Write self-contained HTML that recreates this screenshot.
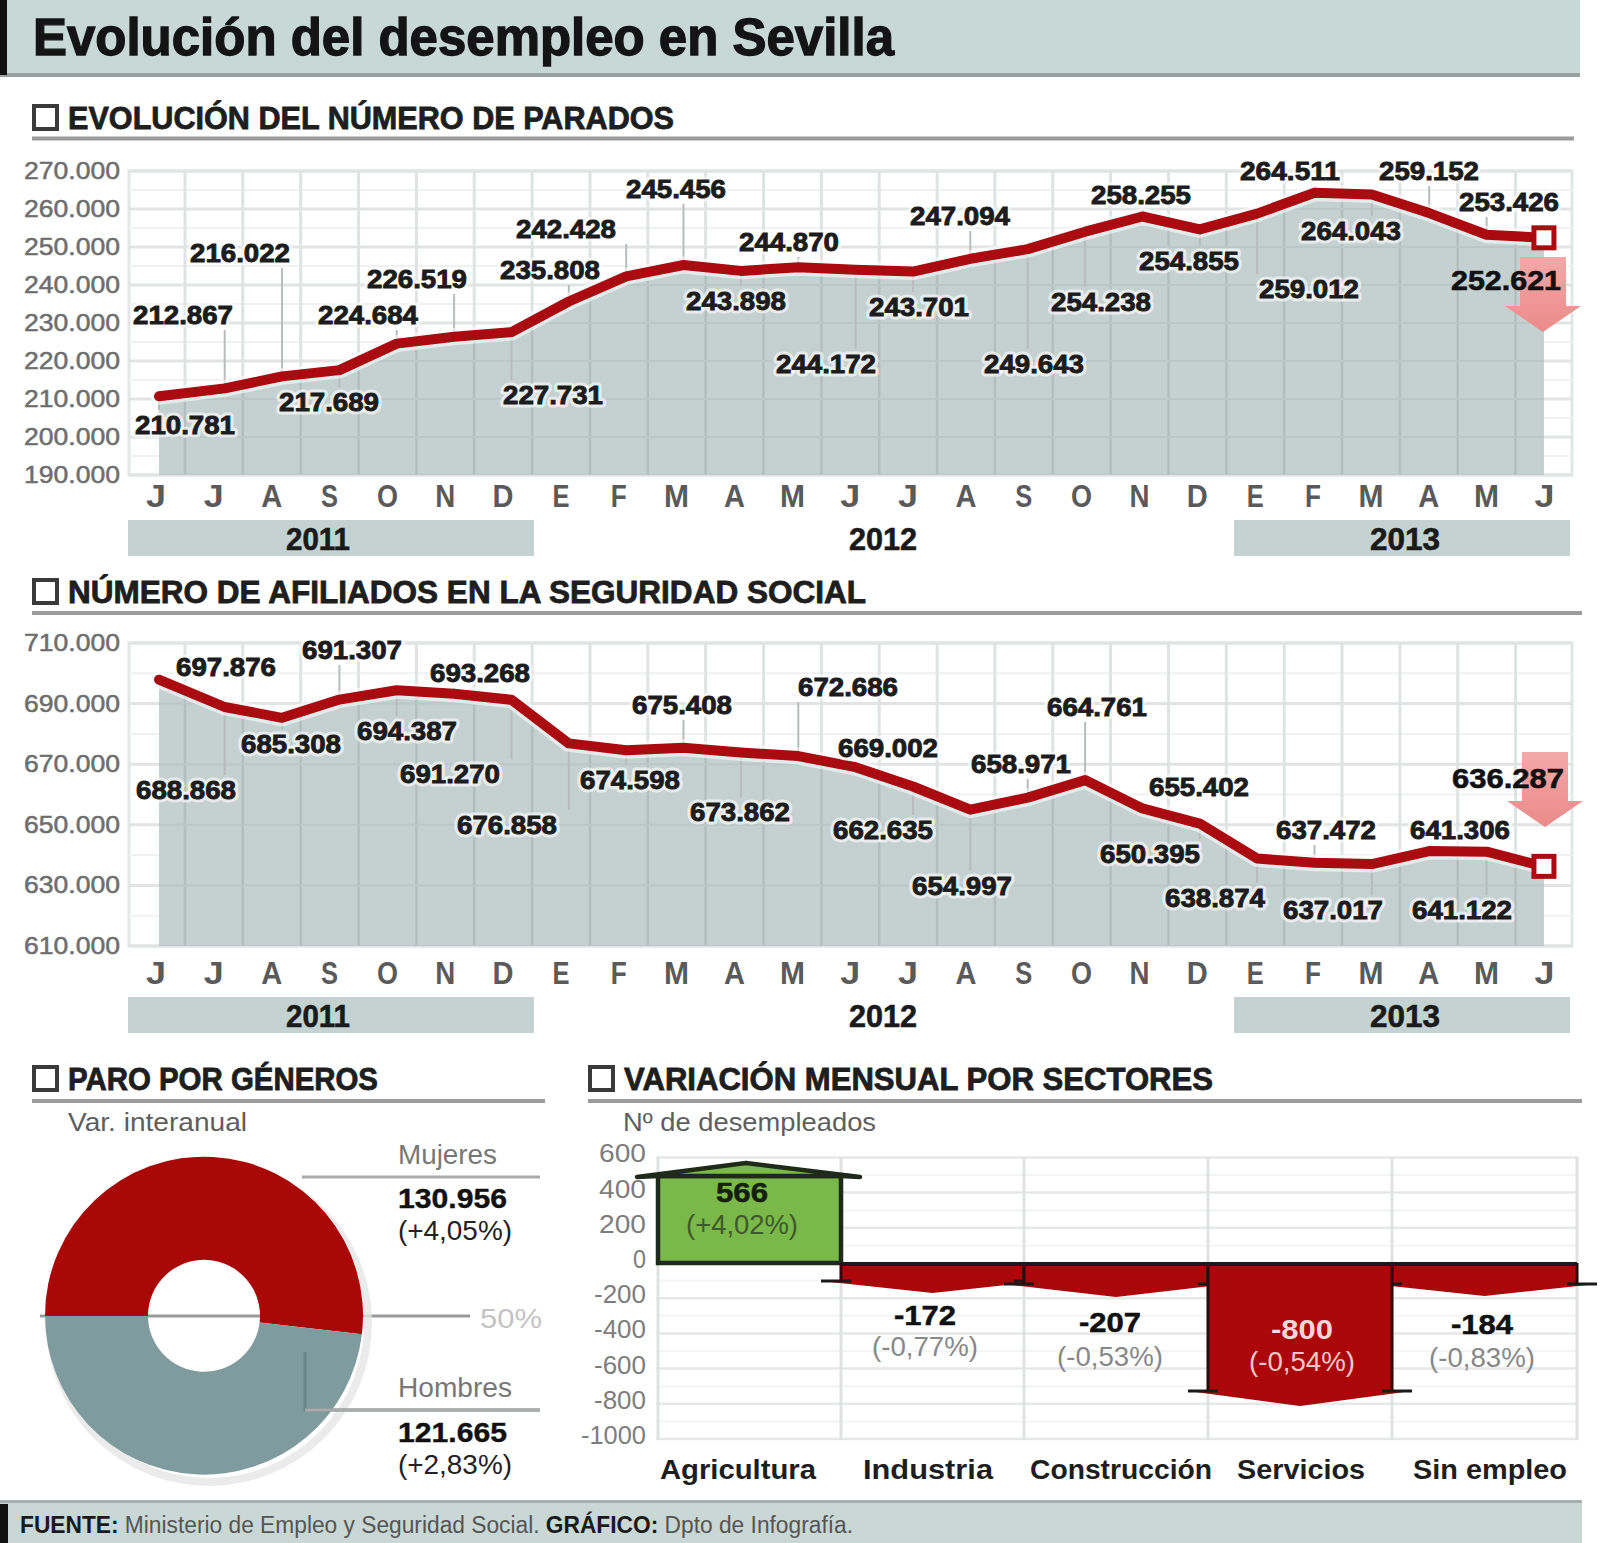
<!DOCTYPE html>
<html><head><meta charset="utf-8"><title>Evolución del desempleo en Sevilla</title>
<style>html,body{margin:0;padding:0;background:#fff;}body{width:1600px;height:1543px;overflow:hidden;font-family:"Liberation Sans", sans-serif;}svg{display:block;}</style>
</head><body>
<svg width="1600" height="1543" viewBox="0 0 1600 1543" font-family='"Liberation Sans", sans-serif'><defs><linearGradient id="ag" x1="0" y1="0" x2="0" y2="1"><stop offset="0" stop-color="#f3a8a8"/><stop offset="1" stop-color="#ec8a8a"/></linearGradient></defs>
<rect x="0" y="0" width="1580" height="75" fill="#c7d8d6"/>
<rect x="0" y="73" width="1580" height="4" fill="#98a1a0"/>
<rect x="0" y="0" width="7" height="75" fill="#111"/>
<text x="33.0" y="55.0" font-size="51" fill="#141414" font-weight="bold" text-anchor="start" textLength="861" lengthAdjust="spacingAndGlyphs" stroke="#141414" stroke-width="1.3">Evolución del desempleo en Sevilla</text>
<rect x="34" y="106" width="23" height="23" fill="none" stroke="#3a3a3a" stroke-width="4"/>
<text x="68.0" y="129.0" font-size="31" fill="#1e1e1e" font-weight="bold" text-anchor="start" textLength="606" lengthAdjust="spacingAndGlyphs" stroke="#1e1e1e" stroke-width="0.8">EVOLUCIÓN DEL NÚMERO DE PARADOS</text>
<rect x="32" y="136.5" width="1542" height="4" fill="#9c9c9c"/>
<rect x="34" y="580" width="23" height="23" fill="none" stroke="#3a3a3a" stroke-width="4"/>
<text x="68.0" y="603.0" font-size="31" fill="#1e1e1e" font-weight="bold" text-anchor="start" textLength="798" lengthAdjust="spacingAndGlyphs" stroke="#1e1e1e" stroke-width="0.8">NÚMERO DE AFILIADOS EN LA SEGURIDAD SOCIAL</text>
<rect x="32" y="611" width="1550" height="4" fill="#9c9c9c"/>
<rect x="34" y="1067" width="23" height="23" fill="none" stroke="#3a3a3a" stroke-width="4"/>
<text x="68.0" y="1090.0" font-size="31" fill="#1e1e1e" font-weight="bold" text-anchor="start" textLength="310" lengthAdjust="spacingAndGlyphs" stroke="#1e1e1e" stroke-width="0.8">PARO POR GÉNEROS</text>
<rect x="32" y="1099" width="513" height="4" fill="#9c9c9c"/>
<rect x="590" y="1067" width="23" height="23" fill="none" stroke="#3a3a3a" stroke-width="4"/>
<text x="624.0" y="1090.0" font-size="31" fill="#1e1e1e" font-weight="bold" text-anchor="start" textLength="589" lengthAdjust="spacingAndGlyphs" stroke="#1e1e1e" stroke-width="0.8">VARIACIÓN MENSUAL POR SECTORES</text>
<rect x="588" y="1099" width="994" height="4" fill="#9c9c9c"/>
<rect x="129" y="171" width="1443" height="304" fill="#ffffff" stroke="#e3e6e6" stroke-width="3"/>
<line x1="129" y1="171.0" x2="1572" y2="171.0" stroke="#e2e4e4" stroke-width="3"/>
<line x1="129" y1="190.0" x2="1572" y2="190.0" stroke="#f0f1f1" stroke-width="2"/>
<text x="120.0" y="179.0" font-size="23" fill="#6e6e6e" font-weight="normal" text-anchor="end" textLength="96" lengthAdjust="spacingAndGlyphs" stroke="#6e6e6e" stroke-width="0.5">270.000</text>
<line x1="129" y1="209.0" x2="1572" y2="209.0" stroke="#e2e4e4" stroke-width="3"/>
<line x1="129" y1="228.0" x2="1572" y2="228.0" stroke="#f0f1f1" stroke-width="2"/>
<text x="120.0" y="217.0" font-size="23" fill="#6e6e6e" font-weight="normal" text-anchor="end" textLength="96" lengthAdjust="spacingAndGlyphs" stroke="#6e6e6e" stroke-width="0.5">260.000</text>
<line x1="129" y1="247.0" x2="1572" y2="247.0" stroke="#e2e4e4" stroke-width="3"/>
<line x1="129" y1="266.0" x2="1572" y2="266.0" stroke="#f0f1f1" stroke-width="2"/>
<text x="120.0" y="255.0" font-size="23" fill="#6e6e6e" font-weight="normal" text-anchor="end" textLength="96" lengthAdjust="spacingAndGlyphs" stroke="#6e6e6e" stroke-width="0.5">250.000</text>
<line x1="129" y1="285.0" x2="1572" y2="285.0" stroke="#e2e4e4" stroke-width="3"/>
<line x1="129" y1="304.0" x2="1572" y2="304.0" stroke="#f0f1f1" stroke-width="2"/>
<text x="120.0" y="293.0" font-size="23" fill="#6e6e6e" font-weight="normal" text-anchor="end" textLength="96" lengthAdjust="spacingAndGlyphs" stroke="#6e6e6e" stroke-width="0.5">240.000</text>
<line x1="129" y1="323.0" x2="1572" y2="323.0" stroke="#e2e4e4" stroke-width="3"/>
<line x1="129" y1="342.0" x2="1572" y2="342.0" stroke="#f0f1f1" stroke-width="2"/>
<text x="120.0" y="331.0" font-size="23" fill="#6e6e6e" font-weight="normal" text-anchor="end" textLength="96" lengthAdjust="spacingAndGlyphs" stroke="#6e6e6e" stroke-width="0.5">230.000</text>
<line x1="129" y1="361.0" x2="1572" y2="361.0" stroke="#e2e4e4" stroke-width="3"/>
<line x1="129" y1="380.0" x2="1572" y2="380.0" stroke="#f0f1f1" stroke-width="2"/>
<text x="120.0" y="369.0" font-size="23" fill="#6e6e6e" font-weight="normal" text-anchor="end" textLength="96" lengthAdjust="spacingAndGlyphs" stroke="#6e6e6e" stroke-width="0.5">220.000</text>
<line x1="129" y1="399.0" x2="1572" y2="399.0" stroke="#e2e4e4" stroke-width="3"/>
<line x1="129" y1="418.0" x2="1572" y2="418.0" stroke="#f0f1f1" stroke-width="2"/>
<text x="120.0" y="407.0" font-size="23" fill="#6e6e6e" font-weight="normal" text-anchor="end" textLength="96" lengthAdjust="spacingAndGlyphs" stroke="#6e6e6e" stroke-width="0.5">210.000</text>
<line x1="129" y1="437.0" x2="1572" y2="437.0" stroke="#e2e4e4" stroke-width="3"/>
<line x1="129" y1="456.0" x2="1572" y2="456.0" stroke="#f0f1f1" stroke-width="2"/>
<text x="120.0" y="445.0" font-size="23" fill="#6e6e6e" font-weight="normal" text-anchor="end" textLength="96" lengthAdjust="spacingAndGlyphs" stroke="#6e6e6e" stroke-width="0.5">200.000</text>
<line x1="129" y1="475.0" x2="1572" y2="475.0" stroke="#e2e4e4" stroke-width="3"/>
<text x="120.0" y="483.0" font-size="23" fill="#6e6e6e" font-weight="normal" text-anchor="end" textLength="96" lengthAdjust="spacingAndGlyphs" stroke="#6e6e6e" stroke-width="0.5">190.000</text>
<line x1="185.0" y1="171" x2="185.0" y2="475" stroke="#e0e3e3" stroke-width="3"/>
<line x1="242.8" y1="171" x2="242.8" y2="475" stroke="#e0e3e3" stroke-width="3"/>
<line x1="300.7" y1="171" x2="300.7" y2="475" stroke="#e0e3e3" stroke-width="3"/>
<line x1="358.6" y1="171" x2="358.6" y2="475" stroke="#e0e3e3" stroke-width="3"/>
<line x1="416.4" y1="171" x2="416.4" y2="475" stroke="#e0e3e3" stroke-width="3"/>
<line x1="474.2" y1="171" x2="474.2" y2="475" stroke="#e0e3e3" stroke-width="3"/>
<line x1="532.1" y1="171" x2="532.1" y2="475" stroke="#e0e3e3" stroke-width="3"/>
<line x1="590.0" y1="171" x2="590.0" y2="475" stroke="#e0e3e3" stroke-width="3"/>
<line x1="647.8" y1="171" x2="647.8" y2="475" stroke="#e0e3e3" stroke-width="3"/>
<line x1="705.6" y1="171" x2="705.6" y2="475" stroke="#e0e3e3" stroke-width="3"/>
<line x1="763.5" y1="171" x2="763.5" y2="475" stroke="#e0e3e3" stroke-width="3"/>
<line x1="821.4" y1="171" x2="821.4" y2="475" stroke="#e0e3e3" stroke-width="3"/>
<line x1="879.2" y1="171" x2="879.2" y2="475" stroke="#e0e3e3" stroke-width="3"/>
<line x1="937.1" y1="171" x2="937.1" y2="475" stroke="#e0e3e3" stroke-width="3"/>
<line x1="994.9" y1="171" x2="994.9" y2="475" stroke="#e0e3e3" stroke-width="3"/>
<line x1="1052.8" y1="171" x2="1052.8" y2="475" stroke="#e0e3e3" stroke-width="3"/>
<line x1="1110.6" y1="171" x2="1110.6" y2="475" stroke="#e0e3e3" stroke-width="3"/>
<line x1="1168.5" y1="171" x2="1168.5" y2="475" stroke="#e0e3e3" stroke-width="3"/>
<line x1="1226.3" y1="171" x2="1226.3" y2="475" stroke="#e0e3e3" stroke-width="3"/>
<line x1="1284.2" y1="171" x2="1284.2" y2="475" stroke="#e0e3e3" stroke-width="3"/>
<line x1="1342.0" y1="171" x2="1342.0" y2="475" stroke="#e0e3e3" stroke-width="3"/>
<line x1="1399.9" y1="171" x2="1399.9" y2="475" stroke="#e0e3e3" stroke-width="3"/>
<line x1="1457.7" y1="171" x2="1457.7" y2="475" stroke="#e0e3e3" stroke-width="3"/>
<line x1="1515.5" y1="171" x2="1515.5" y2="475" stroke="#e0e3e3" stroke-width="3"/>
<path d="M159.0,475 L159.0,396.3 L224.7,388.4 L282.0,376.4 L339.4,370.1 L396.7,343.6 L454.1,336.7 L511.5,332.1 L568.8,301.5 L626.2,276.4 L683.5,265.0 L740.9,270.9 L798.3,267.2 L855.6,269.8 L913.0,271.6 L970.3,258.8 L1027.7,249.1 L1085.1,231.7 L1142.4,216.5 L1199.8,229.4 L1257.1,213.6 L1314.5,192.8 L1371.9,194.6 L1429.2,213.1 L1486.6,234.8 L1543.9,237.8 L1543.9,475 Z" fill="#c5d0d0"/>
<line x1="185.0" y1="171" x2="185.0" y2="475" stroke="#b3bfbf" stroke-width="2.5" clip-path="url(#clip171)"/>
<line x1="242.8" y1="171" x2="242.8" y2="475" stroke="#b3bfbf" stroke-width="2.5" clip-path="url(#clip171)"/>
<line x1="300.7" y1="171" x2="300.7" y2="475" stroke="#b3bfbf" stroke-width="2.5" clip-path="url(#clip171)"/>
<line x1="358.6" y1="171" x2="358.6" y2="475" stroke="#b3bfbf" stroke-width="2.5" clip-path="url(#clip171)"/>
<line x1="416.4" y1="171" x2="416.4" y2="475" stroke="#b3bfbf" stroke-width="2.5" clip-path="url(#clip171)"/>
<line x1="474.2" y1="171" x2="474.2" y2="475" stroke="#b3bfbf" stroke-width="2.5" clip-path="url(#clip171)"/>
<line x1="532.1" y1="171" x2="532.1" y2="475" stroke="#b3bfbf" stroke-width="2.5" clip-path="url(#clip171)"/>
<line x1="590.0" y1="171" x2="590.0" y2="475" stroke="#b3bfbf" stroke-width="2.5" clip-path="url(#clip171)"/>
<line x1="647.8" y1="171" x2="647.8" y2="475" stroke="#b3bfbf" stroke-width="2.5" clip-path="url(#clip171)"/>
<line x1="705.6" y1="171" x2="705.6" y2="475" stroke="#b3bfbf" stroke-width="2.5" clip-path="url(#clip171)"/>
<line x1="763.5" y1="171" x2="763.5" y2="475" stroke="#b3bfbf" stroke-width="2.5" clip-path="url(#clip171)"/>
<line x1="821.4" y1="171" x2="821.4" y2="475" stroke="#b3bfbf" stroke-width="2.5" clip-path="url(#clip171)"/>
<line x1="879.2" y1="171" x2="879.2" y2="475" stroke="#b3bfbf" stroke-width="2.5" clip-path="url(#clip171)"/>
<line x1="937.1" y1="171" x2="937.1" y2="475" stroke="#b3bfbf" stroke-width="2.5" clip-path="url(#clip171)"/>
<line x1="994.9" y1="171" x2="994.9" y2="475" stroke="#b3bfbf" stroke-width="2.5" clip-path="url(#clip171)"/>
<line x1="1052.8" y1="171" x2="1052.8" y2="475" stroke="#b3bfbf" stroke-width="2.5" clip-path="url(#clip171)"/>
<line x1="1110.6" y1="171" x2="1110.6" y2="475" stroke="#b3bfbf" stroke-width="2.5" clip-path="url(#clip171)"/>
<line x1="1168.5" y1="171" x2="1168.5" y2="475" stroke="#b3bfbf" stroke-width="2.5" clip-path="url(#clip171)"/>
<line x1="1226.3" y1="171" x2="1226.3" y2="475" stroke="#b3bfbf" stroke-width="2.5" clip-path="url(#clip171)"/>
<line x1="1284.2" y1="171" x2="1284.2" y2="475" stroke="#b3bfbf" stroke-width="2.5" clip-path="url(#clip171)"/>
<line x1="1342.0" y1="171" x2="1342.0" y2="475" stroke="#b3bfbf" stroke-width="2.5" clip-path="url(#clip171)"/>
<line x1="1399.9" y1="171" x2="1399.9" y2="475" stroke="#b3bfbf" stroke-width="2.5" clip-path="url(#clip171)"/>
<line x1="1457.7" y1="171" x2="1457.7" y2="475" stroke="#b3bfbf" stroke-width="2.5" clip-path="url(#clip171)"/>
<line x1="1515.5" y1="171" x2="1515.5" y2="475" stroke="#b3bfbf" stroke-width="2.5" clip-path="url(#clip171)"/>
<clipPath id="clip171"><path d="M159.0,475 L159.0,396.3 L224.7,388.4 L282.0,376.4 L339.4,370.1 L396.7,343.6 L454.1,336.7 L511.5,332.1 L568.8,301.5 L626.2,276.4 L683.5,265.0 L740.9,270.9 L798.3,267.2 L855.6,269.8 L913.0,271.6 L970.3,258.8 L1027.7,249.1 L1085.1,231.7 L1142.4,216.5 L1199.8,229.4 L1257.1,213.6 L1314.5,192.8 L1371.9,194.6 L1429.2,213.1 L1486.6,234.8 L1543.9,237.8 L1543.9,475 Z"/></clipPath>
<line x1="129" y1="171.0" x2="1572" y2="171.0" stroke="#bcc7c7" stroke-width="2" clip-path="url(#clip171)"/>
<line x1="129" y1="209.0" x2="1572" y2="209.0" stroke="#bcc7c7" stroke-width="2" clip-path="url(#clip171)"/>
<line x1="129" y1="247.0" x2="1572" y2="247.0" stroke="#bcc7c7" stroke-width="2" clip-path="url(#clip171)"/>
<line x1="129" y1="285.0" x2="1572" y2="285.0" stroke="#bcc7c7" stroke-width="2" clip-path="url(#clip171)"/>
<line x1="129" y1="323.0" x2="1572" y2="323.0" stroke="#bcc7c7" stroke-width="2" clip-path="url(#clip171)"/>
<line x1="129" y1="361.0" x2="1572" y2="361.0" stroke="#bcc7c7" stroke-width="2" clip-path="url(#clip171)"/>
<line x1="129" y1="399.0" x2="1572" y2="399.0" stroke="#bcc7c7" stroke-width="2" clip-path="url(#clip171)"/>
<line x1="129" y1="437.0" x2="1572" y2="437.0" stroke="#bcc7c7" stroke-width="2" clip-path="url(#clip171)"/>
<line x1="129" y1="475.0" x2="1572" y2="475.0" stroke="#bcc7c7" stroke-width="2" clip-path="url(#clip171)"/>
<line x1="224.7" y1="330.0" x2="224.7" y2="388.4" stroke="#b8bcbc" stroke-width="2"/>
<line x1="282.0" y1="268.0" x2="282.0" y2="376.4" stroke="#b8bcbc" stroke-width="2"/>
<line x1="454.1" y1="294.0" x2="454.1" y2="336.7" stroke="#b8bcbc" stroke-width="2"/>
<line x1="396.7" y1="330.0" x2="396.7" y2="343.6" stroke="#b8bcbc" stroke-width="2"/>
<line x1="626.2" y1="244.0" x2="626.2" y2="276.4" stroke="#b8bcbc" stroke-width="2"/>
<line x1="568.8" y1="285.0" x2="568.8" y2="301.5" stroke="#b8bcbc" stroke-width="2"/>
<line x1="683.5" y1="204.0" x2="683.5" y2="265.0" stroke="#b8bcbc" stroke-width="2"/>
<line x1="798.3" y1="257.0" x2="798.3" y2="267.2" stroke="#b8bcbc" stroke-width="2"/>
<line x1="740.9" y1="270.9" x2="740.9" y2="286.0" stroke="#b8bcbc" stroke-width="2"/>
<line x1="855.6" y1="269.8" x2="855.6" y2="349.0" stroke="#b8bcbc" stroke-width="2"/>
<line x1="970.3" y1="231.0" x2="970.3" y2="258.8" stroke="#b8bcbc" stroke-width="2"/>
<line x1="913.0" y1="271.6" x2="913.0" y2="292.0" stroke="#b8bcbc" stroke-width="2"/>
<line x1="1027.7" y1="249.1" x2="1027.7" y2="349.0" stroke="#b8bcbc" stroke-width="2"/>
<line x1="1085.1" y1="231.7" x2="1085.1" y2="287.0" stroke="#b8bcbc" stroke-width="2"/>
<line x1="1142.4" y1="210.0" x2="1142.4" y2="216.5" stroke="#b8bcbc" stroke-width="2"/>
<line x1="1199.8" y1="229.4" x2="1199.8" y2="246.0" stroke="#b8bcbc" stroke-width="2"/>
<line x1="1314.5" y1="186.0" x2="1314.5" y2="192.8" stroke="#b8bcbc" stroke-width="2"/>
<line x1="1371.9" y1="194.6" x2="1371.9" y2="216.0" stroke="#b8bcbc" stroke-width="2"/>
<line x1="1257.1" y1="213.6" x2="1257.1" y2="274.0" stroke="#b8bcbc" stroke-width="2"/>
<line x1="1429.2" y1="186.0" x2="1429.2" y2="213.1" stroke="#b8bcbc" stroke-width="2"/>
<line x1="1486.6" y1="217.0" x2="1486.6" y2="234.8" stroke="#b8bcbc" stroke-width="2"/>
<line x1="159.0" y1="396.3" x2="159.0" y2="410.0" stroke="#b8bcbc" stroke-width="2"/>
<line x1="339.4" y1="370.1" x2="339.4" y2="387.0" stroke="#b8bcbc" stroke-width="2"/>
<line x1="511.5" y1="332.1" x2="511.5" y2="380.0" stroke="#b8bcbc" stroke-width="2"/>
<polyline points="159.0,396.3 224.7,388.4 282.0,376.4 339.4,370.1 396.7,343.6 454.1,336.7 511.5,332.1 568.8,301.5 626.2,276.4 683.5,265.0 740.9,270.9 798.3,267.2 855.6,269.8 913.0,271.6 970.3,258.8 1027.7,249.1 1085.1,231.7 1142.4,216.5 1199.8,229.4 1257.1,213.6 1314.5,192.8 1371.9,194.6 1429.2,213.1 1486.6,234.8 1543.9,237.8" fill="none" stroke="#ffffff" stroke-opacity="0.55" stroke-width="17" stroke-linejoin="round" stroke-linecap="round"/>
<polyline points="159.0,396.3 224.7,388.4 282.0,376.4 339.4,370.1 396.7,343.6 454.1,336.7 511.5,332.1 568.8,301.5 626.2,276.4 683.5,265.0 740.9,270.9 798.3,267.2 855.6,269.8 913.0,271.6 970.3,258.8 1027.7,249.1 1085.1,231.7 1142.4,216.5 1199.8,229.4 1257.1,213.6 1314.5,192.8 1371.9,194.6 1429.2,213.1 1486.6,234.8 1543.9,237.8" fill="none" stroke="#a90b10" stroke-width="10" stroke-linejoin="round" stroke-linecap="round"/>
<text x="183.0" y="324.0" font-size="26" fill="#ffffff" font-weight="bold" text-anchor="middle" textLength="100" lengthAdjust="spacingAndGlyphs" stroke="#ffffff" stroke-opacity="0.6" stroke-width="7" stroke-linejoin="round">212.867</text>
<text x="240.0" y="262.0" font-size="26" fill="#ffffff" font-weight="bold" text-anchor="middle" textLength="100" lengthAdjust="spacingAndGlyphs" stroke="#ffffff" stroke-opacity="0.6" stroke-width="7" stroke-linejoin="round">216.022</text>
<text x="417.0" y="288.0" font-size="26" fill="#ffffff" font-weight="bold" text-anchor="middle" textLength="100" lengthAdjust="spacingAndGlyphs" stroke="#ffffff" stroke-opacity="0.6" stroke-width="7" stroke-linejoin="round">226.519</text>
<text x="368.0" y="324.0" font-size="26" fill="#ffffff" font-weight="bold" text-anchor="middle" textLength="100" lengthAdjust="spacingAndGlyphs" stroke="#ffffff" stroke-opacity="0.6" stroke-width="7" stroke-linejoin="round">224.684</text>
<text x="566.0" y="238.0" font-size="26" fill="#ffffff" font-weight="bold" text-anchor="middle" textLength="100" lengthAdjust="spacingAndGlyphs" stroke="#ffffff" stroke-opacity="0.6" stroke-width="7" stroke-linejoin="round">242.428</text>
<text x="550.0" y="279.0" font-size="26" fill="#ffffff" font-weight="bold" text-anchor="middle" textLength="100" lengthAdjust="spacingAndGlyphs" stroke="#ffffff" stroke-opacity="0.6" stroke-width="7" stroke-linejoin="round">235.808</text>
<text x="676.0" y="198.0" font-size="26" fill="#ffffff" font-weight="bold" text-anchor="middle" textLength="100" lengthAdjust="spacingAndGlyphs" stroke="#ffffff" stroke-opacity="0.6" stroke-width="7" stroke-linejoin="round">245.456</text>
<text x="789.0" y="251.0" font-size="26" fill="#ffffff" font-weight="bold" text-anchor="middle" textLength="100" lengthAdjust="spacingAndGlyphs" stroke="#ffffff" stroke-opacity="0.6" stroke-width="7" stroke-linejoin="round">244.870</text>
<text x="736.0" y="310.0" font-size="26" fill="#ffffff" font-weight="bold" text-anchor="middle" textLength="100" lengthAdjust="spacingAndGlyphs" stroke="#ffffff" stroke-opacity="0.6" stroke-width="7" stroke-linejoin="round">243.898</text>
<text x="826.0" y="373.0" font-size="26" fill="#ffffff" font-weight="bold" text-anchor="middle" textLength="100" lengthAdjust="spacingAndGlyphs" stroke="#ffffff" stroke-opacity="0.6" stroke-width="7" stroke-linejoin="round">244.172</text>
<text x="960.0" y="225.0" font-size="26" fill="#ffffff" font-weight="bold" text-anchor="middle" textLength="100" lengthAdjust="spacingAndGlyphs" stroke="#ffffff" stroke-opacity="0.6" stroke-width="7" stroke-linejoin="round">247.094</text>
<text x="919.0" y="316.0" font-size="26" fill="#ffffff" font-weight="bold" text-anchor="middle" textLength="100" lengthAdjust="spacingAndGlyphs" stroke="#ffffff" stroke-opacity="0.6" stroke-width="7" stroke-linejoin="round">243.701</text>
<text x="1034.0" y="373.0" font-size="26" fill="#ffffff" font-weight="bold" text-anchor="middle" textLength="100" lengthAdjust="spacingAndGlyphs" stroke="#ffffff" stroke-opacity="0.6" stroke-width="7" stroke-linejoin="round">249.643</text>
<text x="1101.0" y="311.0" font-size="26" fill="#ffffff" font-weight="bold" text-anchor="middle" textLength="100" lengthAdjust="spacingAndGlyphs" stroke="#ffffff" stroke-opacity="0.6" stroke-width="7" stroke-linejoin="round">254.238</text>
<text x="1141.0" y="204.0" font-size="26" fill="#ffffff" font-weight="bold" text-anchor="middle" textLength="100" lengthAdjust="spacingAndGlyphs" stroke="#ffffff" stroke-opacity="0.6" stroke-width="7" stroke-linejoin="round">258.255</text>
<text x="1189.0" y="270.0" font-size="26" fill="#ffffff" font-weight="bold" text-anchor="middle" textLength="100" lengthAdjust="spacingAndGlyphs" stroke="#ffffff" stroke-opacity="0.6" stroke-width="7" stroke-linejoin="round">254.855</text>
<text x="1290.0" y="180.0" font-size="26" fill="#ffffff" font-weight="bold" text-anchor="middle" textLength="100" lengthAdjust="spacingAndGlyphs" stroke="#ffffff" stroke-opacity="0.6" stroke-width="7" stroke-linejoin="round">264.511</text>
<text x="1351.0" y="240.0" font-size="26" fill="#ffffff" font-weight="bold" text-anchor="middle" textLength="100" lengthAdjust="spacingAndGlyphs" stroke="#ffffff" stroke-opacity="0.6" stroke-width="7" stroke-linejoin="round">264.043</text>
<text x="1309.0" y="298.0" font-size="26" fill="#ffffff" font-weight="bold" text-anchor="middle" textLength="100" lengthAdjust="spacingAndGlyphs" stroke="#ffffff" stroke-opacity="0.6" stroke-width="7" stroke-linejoin="round">259.012</text>
<text x="1429.0" y="180.0" font-size="26" fill="#ffffff" font-weight="bold" text-anchor="middle" textLength="100" lengthAdjust="spacingAndGlyphs" stroke="#ffffff" stroke-opacity="0.6" stroke-width="7" stroke-linejoin="round">259.152</text>
<text x="1509.0" y="211.0" font-size="26" fill="#ffffff" font-weight="bold" text-anchor="middle" textLength="100" lengthAdjust="spacingAndGlyphs" stroke="#ffffff" stroke-opacity="0.6" stroke-width="7" stroke-linejoin="round">253.426</text>
<text x="185.0" y="434.0" font-size="26" fill="#ffffff" font-weight="bold" text-anchor="middle" textLength="100" lengthAdjust="spacingAndGlyphs" stroke="#ffffff" stroke-opacity="0.6" stroke-width="7" stroke-linejoin="round">210.781</text>
<text x="329.0" y="411.0" font-size="26" fill="#ffffff" font-weight="bold" text-anchor="middle" textLength="100" lengthAdjust="spacingAndGlyphs" stroke="#ffffff" stroke-opacity="0.6" stroke-width="7" stroke-linejoin="round">217.689</text>
<text x="553.0" y="404.0" font-size="26" fill="#ffffff" font-weight="bold" text-anchor="middle" textLength="100" lengthAdjust="spacingAndGlyphs" stroke="#ffffff" stroke-opacity="0.6" stroke-width="7" stroke-linejoin="round">227.731</text>
<text x="183.0" y="324.0" font-size="26" fill="#1c1c1c" font-weight="bold" text-anchor="middle" textLength="100" lengthAdjust="spacingAndGlyphs" stroke="#1c1c1c" stroke-width="0.9">212.867</text>
<text x="240.0" y="262.0" font-size="26" fill="#1c1c1c" font-weight="bold" text-anchor="middle" textLength="100" lengthAdjust="spacingAndGlyphs" stroke="#1c1c1c" stroke-width="0.9">216.022</text>
<text x="417.0" y="288.0" font-size="26" fill="#1c1c1c" font-weight="bold" text-anchor="middle" textLength="100" lengthAdjust="spacingAndGlyphs" stroke="#1c1c1c" stroke-width="0.9">226.519</text>
<text x="368.0" y="324.0" font-size="26" fill="#1c1c1c" font-weight="bold" text-anchor="middle" textLength="100" lengthAdjust="spacingAndGlyphs" stroke="#1c1c1c" stroke-width="0.9">224.684</text>
<text x="566.0" y="238.0" font-size="26" fill="#1c1c1c" font-weight="bold" text-anchor="middle" textLength="100" lengthAdjust="spacingAndGlyphs" stroke="#1c1c1c" stroke-width="0.9">242.428</text>
<text x="550.0" y="279.0" font-size="26" fill="#1c1c1c" font-weight="bold" text-anchor="middle" textLength="100" lengthAdjust="spacingAndGlyphs" stroke="#1c1c1c" stroke-width="0.9">235.808</text>
<text x="676.0" y="198.0" font-size="26" fill="#1c1c1c" font-weight="bold" text-anchor="middle" textLength="100" lengthAdjust="spacingAndGlyphs" stroke="#1c1c1c" stroke-width="0.9">245.456</text>
<text x="789.0" y="251.0" font-size="26" fill="#1c1c1c" font-weight="bold" text-anchor="middle" textLength="100" lengthAdjust="spacingAndGlyphs" stroke="#1c1c1c" stroke-width="0.9">244.870</text>
<text x="736.0" y="310.0" font-size="26" fill="#1c1c1c" font-weight="bold" text-anchor="middle" textLength="100" lengthAdjust="spacingAndGlyphs" stroke="#1c1c1c" stroke-width="0.9">243.898</text>
<text x="826.0" y="373.0" font-size="26" fill="#1c1c1c" font-weight="bold" text-anchor="middle" textLength="100" lengthAdjust="spacingAndGlyphs" stroke="#1c1c1c" stroke-width="0.9">244.172</text>
<text x="960.0" y="225.0" font-size="26" fill="#1c1c1c" font-weight="bold" text-anchor="middle" textLength="100" lengthAdjust="spacingAndGlyphs" stroke="#1c1c1c" stroke-width="0.9">247.094</text>
<text x="919.0" y="316.0" font-size="26" fill="#1c1c1c" font-weight="bold" text-anchor="middle" textLength="100" lengthAdjust="spacingAndGlyphs" stroke="#1c1c1c" stroke-width="0.9">243.701</text>
<text x="1034.0" y="373.0" font-size="26" fill="#1c1c1c" font-weight="bold" text-anchor="middle" textLength="100" lengthAdjust="spacingAndGlyphs" stroke="#1c1c1c" stroke-width="0.9">249.643</text>
<text x="1101.0" y="311.0" font-size="26" fill="#1c1c1c" font-weight="bold" text-anchor="middle" textLength="100" lengthAdjust="spacingAndGlyphs" stroke="#1c1c1c" stroke-width="0.9">254.238</text>
<text x="1141.0" y="204.0" font-size="26" fill="#1c1c1c" font-weight="bold" text-anchor="middle" textLength="100" lengthAdjust="spacingAndGlyphs" stroke="#1c1c1c" stroke-width="0.9">258.255</text>
<text x="1189.0" y="270.0" font-size="26" fill="#1c1c1c" font-weight="bold" text-anchor="middle" textLength="100" lengthAdjust="spacingAndGlyphs" stroke="#1c1c1c" stroke-width="0.9">254.855</text>
<text x="1290.0" y="180.0" font-size="26" fill="#1c1c1c" font-weight="bold" text-anchor="middle" textLength="100" lengthAdjust="spacingAndGlyphs" stroke="#1c1c1c" stroke-width="0.9">264.511</text>
<text x="1351.0" y="240.0" font-size="26" fill="#1c1c1c" font-weight="bold" text-anchor="middle" textLength="100" lengthAdjust="spacingAndGlyphs" stroke="#1c1c1c" stroke-width="0.9">264.043</text>
<text x="1309.0" y="298.0" font-size="26" fill="#1c1c1c" font-weight="bold" text-anchor="middle" textLength="100" lengthAdjust="spacingAndGlyphs" stroke="#1c1c1c" stroke-width="0.9">259.012</text>
<text x="1429.0" y="180.0" font-size="26" fill="#1c1c1c" font-weight="bold" text-anchor="middle" textLength="100" lengthAdjust="spacingAndGlyphs" stroke="#1c1c1c" stroke-width="0.9">259.152</text>
<text x="1509.0" y="211.0" font-size="26" fill="#1c1c1c" font-weight="bold" text-anchor="middle" textLength="100" lengthAdjust="spacingAndGlyphs" stroke="#1c1c1c" stroke-width="0.9">253.426</text>
<text x="185.0" y="434.0" font-size="26" fill="#1c1c1c" font-weight="bold" text-anchor="middle" textLength="100" lengthAdjust="spacingAndGlyphs" stroke="#1c1c1c" stroke-width="0.9">210.781</text>
<text x="329.0" y="411.0" font-size="26" fill="#1c1c1c" font-weight="bold" text-anchor="middle" textLength="100" lengthAdjust="spacingAndGlyphs" stroke="#1c1c1c" stroke-width="0.9">217.689</text>
<text x="553.0" y="404.0" font-size="26" fill="#1c1c1c" font-weight="bold" text-anchor="middle" textLength="100" lengthAdjust="spacingAndGlyphs" stroke="#1c1c1c" stroke-width="0.9">227.731</text>
<text x="156.0" y="507.0" font-size="31" fill="#5a5a5a" font-weight="bold" text-anchor="middle" textLength="20" lengthAdjust="spacingAndGlyphs" >J</text>
<text x="213.8" y="507.0" font-size="31" fill="#5a5a5a" font-weight="bold" text-anchor="middle" textLength="20" lengthAdjust="spacingAndGlyphs" >J</text>
<text x="271.7" y="507.0" font-size="31" fill="#5a5a5a" font-weight="bold" text-anchor="middle" textLength="21" lengthAdjust="spacingAndGlyphs" >A</text>
<text x="329.6" y="507.0" font-size="31" fill="#5a5a5a" font-weight="bold" text-anchor="middle" textLength="17" lengthAdjust="spacingAndGlyphs" >S</text>
<text x="387.4" y="507.0" font-size="31" fill="#5a5a5a" font-weight="bold" text-anchor="middle" textLength="21" lengthAdjust="spacingAndGlyphs" >O</text>
<text x="445.2" y="507.0" font-size="31" fill="#5a5a5a" font-weight="bold" text-anchor="middle" textLength="20" lengthAdjust="spacingAndGlyphs" >N</text>
<text x="503.1" y="507.0" font-size="31" fill="#5a5a5a" font-weight="bold" text-anchor="middle" textLength="21" lengthAdjust="spacingAndGlyphs" >D</text>
<text x="561.0" y="507.0" font-size="31" fill="#5a5a5a" font-weight="bold" text-anchor="middle" textLength="17" lengthAdjust="spacingAndGlyphs" >E</text>
<text x="618.8" y="507.0" font-size="31" fill="#5a5a5a" font-weight="bold" text-anchor="middle" textLength="16" lengthAdjust="spacingAndGlyphs" >F</text>
<text x="676.6" y="507.0" font-size="31" fill="#5a5a5a" font-weight="bold" text-anchor="middle" textLength="25" lengthAdjust="spacingAndGlyphs" >M</text>
<text x="734.5" y="507.0" font-size="31" fill="#5a5a5a" font-weight="bold" text-anchor="middle" textLength="21" lengthAdjust="spacingAndGlyphs" >A</text>
<text x="792.4" y="507.0" font-size="31" fill="#5a5a5a" font-weight="bold" text-anchor="middle" textLength="25" lengthAdjust="spacingAndGlyphs" >M</text>
<text x="850.2" y="507.0" font-size="31" fill="#5a5a5a" font-weight="bold" text-anchor="middle" textLength="20" lengthAdjust="spacingAndGlyphs" >J</text>
<text x="908.1" y="507.0" font-size="31" fill="#5a5a5a" font-weight="bold" text-anchor="middle" textLength="20" lengthAdjust="spacingAndGlyphs" >J</text>
<text x="965.9" y="507.0" font-size="31" fill="#5a5a5a" font-weight="bold" text-anchor="middle" textLength="21" lengthAdjust="spacingAndGlyphs" >A</text>
<text x="1023.8" y="507.0" font-size="31" fill="#5a5a5a" font-weight="bold" text-anchor="middle" textLength="17" lengthAdjust="spacingAndGlyphs" >S</text>
<text x="1081.6" y="507.0" font-size="31" fill="#5a5a5a" font-weight="bold" text-anchor="middle" textLength="21" lengthAdjust="spacingAndGlyphs" >O</text>
<text x="1139.5" y="507.0" font-size="31" fill="#5a5a5a" font-weight="bold" text-anchor="middle" textLength="20" lengthAdjust="spacingAndGlyphs" >N</text>
<text x="1197.3" y="507.0" font-size="31" fill="#5a5a5a" font-weight="bold" text-anchor="middle" textLength="21" lengthAdjust="spacingAndGlyphs" >D</text>
<text x="1255.2" y="507.0" font-size="31" fill="#5a5a5a" font-weight="bold" text-anchor="middle" textLength="17" lengthAdjust="spacingAndGlyphs" >E</text>
<text x="1313.0" y="507.0" font-size="31" fill="#5a5a5a" font-weight="bold" text-anchor="middle" textLength="16" lengthAdjust="spacingAndGlyphs" >F</text>
<text x="1370.9" y="507.0" font-size="31" fill="#5a5a5a" font-weight="bold" text-anchor="middle" textLength="25" lengthAdjust="spacingAndGlyphs" >M</text>
<text x="1428.7" y="507.0" font-size="31" fill="#5a5a5a" font-weight="bold" text-anchor="middle" textLength="21" lengthAdjust="spacingAndGlyphs" >A</text>
<text x="1486.5" y="507.0" font-size="31" fill="#5a5a5a" font-weight="bold" text-anchor="middle" textLength="25" lengthAdjust="spacingAndGlyphs" >M</text>
<text x="1544.4" y="507.0" font-size="31" fill="#5a5a5a" font-weight="bold" text-anchor="middle" textLength="20" lengthAdjust="spacingAndGlyphs" >J</text>
<rect x="128" y="520" width="406" height="36" fill="#c4d3d1"/>
<rect x="1234" y="520" width="336" height="36" fill="#c4d3d1"/>
<text x="318.0" y="550.0" font-size="31" fill="#1a1a1a" font-weight="bold" text-anchor="middle" textLength="64" lengthAdjust="spacingAndGlyphs" stroke="#1a1a1a" stroke-width="0.6">2011</text>
<text x="883.0" y="550.0" font-size="31" fill="#1a1a1a" font-weight="bold" text-anchor="middle" textLength="68" lengthAdjust="spacingAndGlyphs" stroke="#1a1a1a" stroke-width="0.6">2012</text>
<text x="1405.0" y="550.0" font-size="31" fill="#1a1a1a" font-weight="bold" text-anchor="middle" textLength="70" lengthAdjust="spacingAndGlyphs" stroke="#1a1a1a" stroke-width="0.6">2013</text>
<rect x="1533.9399999999998" y="227.8229625" width="20" height="20" fill="#fff" stroke="#a90b10" stroke-width="5"/>
<path d="M1520,257 L1566,257 L1566,306 L1581,306 L1543,332 L1505,306 L1520,306 Z" fill="url(#ag)"/>
<text x="1506.0" y="290.0" font-size="28" fill="#111" font-weight="bold" text-anchor="middle" textLength="110" lengthAdjust="spacingAndGlyphs" stroke="#111" stroke-width="0.6">252.621</text>
<rect x="129" y="643" width="1443" height="303" fill="#ffffff" stroke="#e3e6e6" stroke-width="3"/>
<line x1="129" y1="643.0" x2="1572" y2="643.0" stroke="#e2e4e4" stroke-width="3"/>
<line x1="129" y1="673.3" x2="1572" y2="673.3" stroke="#f0f1f1" stroke-width="2"/>
<text x="120.0" y="651.0" font-size="23" fill="#6e6e6e" font-weight="normal" text-anchor="end" textLength="96" lengthAdjust="spacingAndGlyphs" stroke="#6e6e6e" stroke-width="0.5">710.000</text>
<line x1="129" y1="703.6" x2="1572" y2="703.6" stroke="#e2e4e4" stroke-width="3"/>
<line x1="129" y1="733.9" x2="1572" y2="733.9" stroke="#f0f1f1" stroke-width="2"/>
<text x="120.0" y="711.6" font-size="23" fill="#6e6e6e" font-weight="normal" text-anchor="end" textLength="96" lengthAdjust="spacingAndGlyphs" stroke="#6e6e6e" stroke-width="0.5">690.000</text>
<line x1="129" y1="764.2" x2="1572" y2="764.2" stroke="#e2e4e4" stroke-width="3"/>
<line x1="129" y1="794.5" x2="1572" y2="794.5" stroke="#f0f1f1" stroke-width="2"/>
<text x="120.0" y="772.2" font-size="23" fill="#6e6e6e" font-weight="normal" text-anchor="end" textLength="96" lengthAdjust="spacingAndGlyphs" stroke="#6e6e6e" stroke-width="0.5">670.000</text>
<line x1="129" y1="824.8" x2="1572" y2="824.8" stroke="#e2e4e4" stroke-width="3"/>
<line x1="129" y1="855.1" x2="1572" y2="855.1" stroke="#f0f1f1" stroke-width="2"/>
<text x="120.0" y="832.8" font-size="23" fill="#6e6e6e" font-weight="normal" text-anchor="end" textLength="96" lengthAdjust="spacingAndGlyphs" stroke="#6e6e6e" stroke-width="0.5">650.000</text>
<line x1="129" y1="885.4" x2="1572" y2="885.4" stroke="#e2e4e4" stroke-width="3"/>
<line x1="129" y1="915.7" x2="1572" y2="915.7" stroke="#f0f1f1" stroke-width="2"/>
<text x="120.0" y="893.4" font-size="23" fill="#6e6e6e" font-weight="normal" text-anchor="end" textLength="96" lengthAdjust="spacingAndGlyphs" stroke="#6e6e6e" stroke-width="0.5">630.000</text>
<line x1="129" y1="946.0" x2="1572" y2="946.0" stroke="#e2e4e4" stroke-width="3"/>
<text x="120.0" y="954.0" font-size="23" fill="#6e6e6e" font-weight="normal" text-anchor="end" textLength="96" lengthAdjust="spacingAndGlyphs" stroke="#6e6e6e" stroke-width="0.5">610.000</text>
<line x1="185.0" y1="643" x2="185.0" y2="946" stroke="#e0e3e3" stroke-width="3"/>
<line x1="242.8" y1="643" x2="242.8" y2="946" stroke="#e0e3e3" stroke-width="3"/>
<line x1="300.7" y1="643" x2="300.7" y2="946" stroke="#e0e3e3" stroke-width="3"/>
<line x1="358.6" y1="643" x2="358.6" y2="946" stroke="#e0e3e3" stroke-width="3"/>
<line x1="416.4" y1="643" x2="416.4" y2="946" stroke="#e0e3e3" stroke-width="3"/>
<line x1="474.2" y1="643" x2="474.2" y2="946" stroke="#e0e3e3" stroke-width="3"/>
<line x1="532.1" y1="643" x2="532.1" y2="946" stroke="#e0e3e3" stroke-width="3"/>
<line x1="590.0" y1="643" x2="590.0" y2="946" stroke="#e0e3e3" stroke-width="3"/>
<line x1="647.8" y1="643" x2="647.8" y2="946" stroke="#e0e3e3" stroke-width="3"/>
<line x1="705.6" y1="643" x2="705.6" y2="946" stroke="#e0e3e3" stroke-width="3"/>
<line x1="763.5" y1="643" x2="763.5" y2="946" stroke="#e0e3e3" stroke-width="3"/>
<line x1="821.4" y1="643" x2="821.4" y2="946" stroke="#e0e3e3" stroke-width="3"/>
<line x1="879.2" y1="643" x2="879.2" y2="946" stroke="#e0e3e3" stroke-width="3"/>
<line x1="937.1" y1="643" x2="937.1" y2="946" stroke="#e0e3e3" stroke-width="3"/>
<line x1="994.9" y1="643" x2="994.9" y2="946" stroke="#e0e3e3" stroke-width="3"/>
<line x1="1052.8" y1="643" x2="1052.8" y2="946" stroke="#e0e3e3" stroke-width="3"/>
<line x1="1110.6" y1="643" x2="1110.6" y2="946" stroke="#e0e3e3" stroke-width="3"/>
<line x1="1168.5" y1="643" x2="1168.5" y2="946" stroke="#e0e3e3" stroke-width="3"/>
<line x1="1226.3" y1="643" x2="1226.3" y2="946" stroke="#e0e3e3" stroke-width="3"/>
<line x1="1284.2" y1="643" x2="1284.2" y2="946" stroke="#e0e3e3" stroke-width="3"/>
<line x1="1342.0" y1="643" x2="1342.0" y2="946" stroke="#e0e3e3" stroke-width="3"/>
<line x1="1399.9" y1="643" x2="1399.9" y2="946" stroke="#e0e3e3" stroke-width="3"/>
<line x1="1457.7" y1="643" x2="1457.7" y2="946" stroke="#e0e3e3" stroke-width="3"/>
<line x1="1515.5" y1="643" x2="1515.5" y2="946" stroke="#e0e3e3" stroke-width="3"/>
<path d="M159.0,946 L159.0,679.7 L224.7,707.0 L282.0,717.8 L339.4,699.6 L396.7,690.3 L454.1,693.7 L511.5,699.8 L568.8,743.4 L626.2,750.3 L683.5,747.8 L740.9,752.5 L798.3,756.1 L855.6,767.2 L913.0,786.5 L970.3,809.7 L1027.7,797.6 L1085.1,780.1 L1142.4,808.4 L1199.8,823.6 L1257.1,858.5 L1314.5,862.8 L1371.9,864.1 L1429.2,851.1 L1486.6,851.7 L1543.9,866.4 L1543.9,946 Z" fill="#c5d0d0"/>
<line x1="185.0" y1="643" x2="185.0" y2="946" stroke="#b3bfbf" stroke-width="2.5" clip-path="url(#clip643)"/>
<line x1="242.8" y1="643" x2="242.8" y2="946" stroke="#b3bfbf" stroke-width="2.5" clip-path="url(#clip643)"/>
<line x1="300.7" y1="643" x2="300.7" y2="946" stroke="#b3bfbf" stroke-width="2.5" clip-path="url(#clip643)"/>
<line x1="358.6" y1="643" x2="358.6" y2="946" stroke="#b3bfbf" stroke-width="2.5" clip-path="url(#clip643)"/>
<line x1="416.4" y1="643" x2="416.4" y2="946" stroke="#b3bfbf" stroke-width="2.5" clip-path="url(#clip643)"/>
<line x1="474.2" y1="643" x2="474.2" y2="946" stroke="#b3bfbf" stroke-width="2.5" clip-path="url(#clip643)"/>
<line x1="532.1" y1="643" x2="532.1" y2="946" stroke="#b3bfbf" stroke-width="2.5" clip-path="url(#clip643)"/>
<line x1="590.0" y1="643" x2="590.0" y2="946" stroke="#b3bfbf" stroke-width="2.5" clip-path="url(#clip643)"/>
<line x1="647.8" y1="643" x2="647.8" y2="946" stroke="#b3bfbf" stroke-width="2.5" clip-path="url(#clip643)"/>
<line x1="705.6" y1="643" x2="705.6" y2="946" stroke="#b3bfbf" stroke-width="2.5" clip-path="url(#clip643)"/>
<line x1="763.5" y1="643" x2="763.5" y2="946" stroke="#b3bfbf" stroke-width="2.5" clip-path="url(#clip643)"/>
<line x1="821.4" y1="643" x2="821.4" y2="946" stroke="#b3bfbf" stroke-width="2.5" clip-path="url(#clip643)"/>
<line x1="879.2" y1="643" x2="879.2" y2="946" stroke="#b3bfbf" stroke-width="2.5" clip-path="url(#clip643)"/>
<line x1="937.1" y1="643" x2="937.1" y2="946" stroke="#b3bfbf" stroke-width="2.5" clip-path="url(#clip643)"/>
<line x1="994.9" y1="643" x2="994.9" y2="946" stroke="#b3bfbf" stroke-width="2.5" clip-path="url(#clip643)"/>
<line x1="1052.8" y1="643" x2="1052.8" y2="946" stroke="#b3bfbf" stroke-width="2.5" clip-path="url(#clip643)"/>
<line x1="1110.6" y1="643" x2="1110.6" y2="946" stroke="#b3bfbf" stroke-width="2.5" clip-path="url(#clip643)"/>
<line x1="1168.5" y1="643" x2="1168.5" y2="946" stroke="#b3bfbf" stroke-width="2.5" clip-path="url(#clip643)"/>
<line x1="1226.3" y1="643" x2="1226.3" y2="946" stroke="#b3bfbf" stroke-width="2.5" clip-path="url(#clip643)"/>
<line x1="1284.2" y1="643" x2="1284.2" y2="946" stroke="#b3bfbf" stroke-width="2.5" clip-path="url(#clip643)"/>
<line x1="1342.0" y1="643" x2="1342.0" y2="946" stroke="#b3bfbf" stroke-width="2.5" clip-path="url(#clip643)"/>
<line x1="1399.9" y1="643" x2="1399.9" y2="946" stroke="#b3bfbf" stroke-width="2.5" clip-path="url(#clip643)"/>
<line x1="1457.7" y1="643" x2="1457.7" y2="946" stroke="#b3bfbf" stroke-width="2.5" clip-path="url(#clip643)"/>
<line x1="1515.5" y1="643" x2="1515.5" y2="946" stroke="#b3bfbf" stroke-width="2.5" clip-path="url(#clip643)"/>
<clipPath id="clip643"><path d="M159.0,946 L159.0,679.7 L224.7,707.0 L282.0,717.8 L339.4,699.6 L396.7,690.3 L454.1,693.7 L511.5,699.8 L568.8,743.4 L626.2,750.3 L683.5,747.8 L740.9,752.5 L798.3,756.1 L855.6,767.2 L913.0,786.5 L970.3,809.7 L1027.7,797.6 L1085.1,780.1 L1142.4,808.4 L1199.8,823.6 L1257.1,858.5 L1314.5,862.8 L1371.9,864.1 L1429.2,851.1 L1486.6,851.7 L1543.9,866.4 L1543.9,946 Z"/></clipPath>
<line x1="129" y1="643.0" x2="1572" y2="643.0" stroke="#bcc7c7" stroke-width="2" clip-path="url(#clip643)"/>
<line x1="129" y1="703.6" x2="1572" y2="703.6" stroke="#bcc7c7" stroke-width="2" clip-path="url(#clip643)"/>
<line x1="129" y1="764.2" x2="1572" y2="764.2" stroke="#bcc7c7" stroke-width="2" clip-path="url(#clip643)"/>
<line x1="129" y1="824.8" x2="1572" y2="824.8" stroke="#bcc7c7" stroke-width="2" clip-path="url(#clip643)"/>
<line x1="129" y1="885.4" x2="1572" y2="885.4" stroke="#bcc7c7" stroke-width="2" clip-path="url(#clip643)"/>
<line x1="129" y1="946.0" x2="1572" y2="946.0" stroke="#bcc7c7" stroke-width="2" clip-path="url(#clip643)"/>
<line x1="159.0" y1="682.0" x2="159.0" y2="679.7" stroke="#b8bcbc" stroke-width="2"/>
<line x1="339.4" y1="665.0" x2="339.4" y2="699.6" stroke="#b8bcbc" stroke-width="2"/>
<line x1="454.1" y1="688.0" x2="454.1" y2="693.7" stroke="#b8bcbc" stroke-width="2"/>
<line x1="224.7" y1="707.0" x2="224.7" y2="775.0" stroke="#b8bcbc" stroke-width="2"/>
<line x1="282.0" y1="717.8" x2="282.0" y2="729.0" stroke="#b8bcbc" stroke-width="2"/>
<line x1="396.7" y1="690.3" x2="396.7" y2="716.0" stroke="#b8bcbc" stroke-width="2"/>
<line x1="511.5" y1="699.8" x2="511.5" y2="759.0" stroke="#b8bcbc" stroke-width="2"/>
<line x1="568.8" y1="743.4" x2="568.8" y2="810.0" stroke="#b8bcbc" stroke-width="2"/>
<line x1="683.5" y1="720.0" x2="683.5" y2="747.8" stroke="#b8bcbc" stroke-width="2"/>
<line x1="626.2" y1="750.3" x2="626.2" y2="765.0" stroke="#b8bcbc" stroke-width="2"/>
<line x1="740.9" y1="752.5" x2="740.9" y2="797.0" stroke="#b8bcbc" stroke-width="2"/>
<line x1="798.3" y1="702.0" x2="798.3" y2="756.1" stroke="#b8bcbc" stroke-width="2"/>
<line x1="855.6" y1="763.0" x2="855.6" y2="767.2" stroke="#b8bcbc" stroke-width="2"/>
<line x1="913.0" y1="786.5" x2="913.0" y2="815.0" stroke="#b8bcbc" stroke-width="2"/>
<line x1="1027.7" y1="779.0" x2="1027.7" y2="797.6" stroke="#b8bcbc" stroke-width="2"/>
<line x1="970.3" y1="809.7" x2="970.3" y2="871.0" stroke="#b8bcbc" stroke-width="2"/>
<line x1="1085.1" y1="722.0" x2="1085.1" y2="780.1" stroke="#b8bcbc" stroke-width="2"/>
<line x1="1142.4" y1="802.0" x2="1142.4" y2="808.4" stroke="#b8bcbc" stroke-width="2"/>
<line x1="1199.8" y1="823.6" x2="1199.8" y2="839.0" stroke="#b8bcbc" stroke-width="2"/>
<line x1="1257.1" y1="858.5" x2="1257.1" y2="883.0" stroke="#b8bcbc" stroke-width="2"/>
<line x1="1314.5" y1="845.0" x2="1314.5" y2="862.8" stroke="#b8bcbc" stroke-width="2"/>
<line x1="1371.9" y1="864.1" x2="1371.9" y2="895.0" stroke="#b8bcbc" stroke-width="2"/>
<line x1="1429.2" y1="845.0" x2="1429.2" y2="851.1" stroke="#b8bcbc" stroke-width="2"/>
<line x1="1486.6" y1="851.7" x2="1486.6" y2="895.0" stroke="#b8bcbc" stroke-width="2"/>
<polyline points="159.0,679.7 224.7,707.0 282.0,717.8 339.4,699.6 396.7,690.3 454.1,693.7 511.5,699.8 568.8,743.4 626.2,750.3 683.5,747.8 740.9,752.5 798.3,756.1 855.6,767.2 913.0,786.5 970.3,809.7 1027.7,797.6 1085.1,780.1 1142.4,808.4 1199.8,823.6 1257.1,858.5 1314.5,862.8 1371.9,864.1 1429.2,851.1 1486.6,851.7 1543.9,866.4" fill="none" stroke="#ffffff" stroke-opacity="0.55" stroke-width="17" stroke-linejoin="round" stroke-linecap="round"/>
<polyline points="159.0,679.7 224.7,707.0 282.0,717.8 339.4,699.6 396.7,690.3 454.1,693.7 511.5,699.8 568.8,743.4 626.2,750.3 683.5,747.8 740.9,752.5 798.3,756.1 855.6,767.2 913.0,786.5 970.3,809.7 1027.7,797.6 1085.1,780.1 1142.4,808.4 1199.8,823.6 1257.1,858.5 1314.5,862.8 1371.9,864.1 1429.2,851.1 1486.6,851.7 1543.9,866.4" fill="none" stroke="#a90b10" stroke-width="10" stroke-linejoin="round" stroke-linecap="round"/>
<text x="226.0" y="676.0" font-size="26" fill="#ffffff" font-weight="bold" text-anchor="middle" textLength="100" lengthAdjust="spacingAndGlyphs" stroke="#ffffff" stroke-opacity="0.6" stroke-width="7" stroke-linejoin="round">697.876</text>
<text x="352.0" y="659.0" font-size="26" fill="#ffffff" font-weight="bold" text-anchor="middle" textLength="100" lengthAdjust="spacingAndGlyphs" stroke="#ffffff" stroke-opacity="0.6" stroke-width="7" stroke-linejoin="round">691.307</text>
<text x="480.0" y="682.0" font-size="26" fill="#ffffff" font-weight="bold" text-anchor="middle" textLength="100" lengthAdjust="spacingAndGlyphs" stroke="#ffffff" stroke-opacity="0.6" stroke-width="7" stroke-linejoin="round">693.268</text>
<text x="186.0" y="799.0" font-size="26" fill="#ffffff" font-weight="bold" text-anchor="middle" textLength="100" lengthAdjust="spacingAndGlyphs" stroke="#ffffff" stroke-opacity="0.6" stroke-width="7" stroke-linejoin="round">688.868</text>
<text x="291.0" y="753.0" font-size="26" fill="#ffffff" font-weight="bold" text-anchor="middle" textLength="100" lengthAdjust="spacingAndGlyphs" stroke="#ffffff" stroke-opacity="0.6" stroke-width="7" stroke-linejoin="round">685.308</text>
<text x="407.0" y="740.0" font-size="26" fill="#ffffff" font-weight="bold" text-anchor="middle" textLength="100" lengthAdjust="spacingAndGlyphs" stroke="#ffffff" stroke-opacity="0.6" stroke-width="7" stroke-linejoin="round">694.387</text>
<text x="450.0" y="783.0" font-size="26" fill="#ffffff" font-weight="bold" text-anchor="middle" textLength="100" lengthAdjust="spacingAndGlyphs" stroke="#ffffff" stroke-opacity="0.6" stroke-width="7" stroke-linejoin="round">691.270</text>
<text x="507.0" y="834.0" font-size="26" fill="#ffffff" font-weight="bold" text-anchor="middle" textLength="100" lengthAdjust="spacingAndGlyphs" stroke="#ffffff" stroke-opacity="0.6" stroke-width="7" stroke-linejoin="round">676.858</text>
<text x="682.0" y="714.0" font-size="26" fill="#ffffff" font-weight="bold" text-anchor="middle" textLength="100" lengthAdjust="spacingAndGlyphs" stroke="#ffffff" stroke-opacity="0.6" stroke-width="7" stroke-linejoin="round">675.408</text>
<text x="630.0" y="789.0" font-size="26" fill="#ffffff" font-weight="bold" text-anchor="middle" textLength="100" lengthAdjust="spacingAndGlyphs" stroke="#ffffff" stroke-opacity="0.6" stroke-width="7" stroke-linejoin="round">674.598</text>
<text x="740.0" y="821.0" font-size="26" fill="#ffffff" font-weight="bold" text-anchor="middle" textLength="100" lengthAdjust="spacingAndGlyphs" stroke="#ffffff" stroke-opacity="0.6" stroke-width="7" stroke-linejoin="round">673.862</text>
<text x="848.0" y="696.0" font-size="26" fill="#ffffff" font-weight="bold" text-anchor="middle" textLength="100" lengthAdjust="spacingAndGlyphs" stroke="#ffffff" stroke-opacity="0.6" stroke-width="7" stroke-linejoin="round">672.686</text>
<text x="888.0" y="757.0" font-size="26" fill="#ffffff" font-weight="bold" text-anchor="middle" textLength="100" lengthAdjust="spacingAndGlyphs" stroke="#ffffff" stroke-opacity="0.6" stroke-width="7" stroke-linejoin="round">669.002</text>
<text x="883.0" y="839.0" font-size="26" fill="#ffffff" font-weight="bold" text-anchor="middle" textLength="100" lengthAdjust="spacingAndGlyphs" stroke="#ffffff" stroke-opacity="0.6" stroke-width="7" stroke-linejoin="round">662.635</text>
<text x="1021.0" y="773.0" font-size="26" fill="#ffffff" font-weight="bold" text-anchor="middle" textLength="100" lengthAdjust="spacingAndGlyphs" stroke="#ffffff" stroke-opacity="0.6" stroke-width="7" stroke-linejoin="round">658.971</text>
<text x="962.0" y="895.0" font-size="26" fill="#ffffff" font-weight="bold" text-anchor="middle" textLength="100" lengthAdjust="spacingAndGlyphs" stroke="#ffffff" stroke-opacity="0.6" stroke-width="7" stroke-linejoin="round">654.997</text>
<text x="1097.0" y="716.0" font-size="26" fill="#ffffff" font-weight="bold" text-anchor="middle" textLength="100" lengthAdjust="spacingAndGlyphs" stroke="#ffffff" stroke-opacity="0.6" stroke-width="7" stroke-linejoin="round">664.761</text>
<text x="1199.0" y="796.0" font-size="26" fill="#ffffff" font-weight="bold" text-anchor="middle" textLength="100" lengthAdjust="spacingAndGlyphs" stroke="#ffffff" stroke-opacity="0.6" stroke-width="7" stroke-linejoin="round">655.402</text>
<text x="1150.0" y="863.0" font-size="26" fill="#ffffff" font-weight="bold" text-anchor="middle" textLength="100" lengthAdjust="spacingAndGlyphs" stroke="#ffffff" stroke-opacity="0.6" stroke-width="7" stroke-linejoin="round">650.395</text>
<text x="1215.0" y="907.0" font-size="26" fill="#ffffff" font-weight="bold" text-anchor="middle" textLength="100" lengthAdjust="spacingAndGlyphs" stroke="#ffffff" stroke-opacity="0.6" stroke-width="7" stroke-linejoin="round">638.874</text>
<text x="1326.0" y="839.0" font-size="26" fill="#ffffff" font-weight="bold" text-anchor="middle" textLength="100" lengthAdjust="spacingAndGlyphs" stroke="#ffffff" stroke-opacity="0.6" stroke-width="7" stroke-linejoin="round">637.472</text>
<text x="1333.0" y="919.0" font-size="26" fill="#ffffff" font-weight="bold" text-anchor="middle" textLength="100" lengthAdjust="spacingAndGlyphs" stroke="#ffffff" stroke-opacity="0.6" stroke-width="7" stroke-linejoin="round">637.017</text>
<text x="1460.0" y="839.0" font-size="26" fill="#ffffff" font-weight="bold" text-anchor="middle" textLength="100" lengthAdjust="spacingAndGlyphs" stroke="#ffffff" stroke-opacity="0.6" stroke-width="7" stroke-linejoin="round">641.306</text>
<text x="1462.0" y="919.0" font-size="26" fill="#ffffff" font-weight="bold" text-anchor="middle" textLength="100" lengthAdjust="spacingAndGlyphs" stroke="#ffffff" stroke-opacity="0.6" stroke-width="7" stroke-linejoin="round">641.122</text>
<text x="226.0" y="676.0" font-size="26" fill="#1c1c1c" font-weight="bold" text-anchor="middle" textLength="100" lengthAdjust="spacingAndGlyphs" stroke="#1c1c1c" stroke-width="0.9">697.876</text>
<text x="352.0" y="659.0" font-size="26" fill="#1c1c1c" font-weight="bold" text-anchor="middle" textLength="100" lengthAdjust="spacingAndGlyphs" stroke="#1c1c1c" stroke-width="0.9">691.307</text>
<text x="480.0" y="682.0" font-size="26" fill="#1c1c1c" font-weight="bold" text-anchor="middle" textLength="100" lengthAdjust="spacingAndGlyphs" stroke="#1c1c1c" stroke-width="0.9">693.268</text>
<text x="186.0" y="799.0" font-size="26" fill="#1c1c1c" font-weight="bold" text-anchor="middle" textLength="100" lengthAdjust="spacingAndGlyphs" stroke="#1c1c1c" stroke-width="0.9">688.868</text>
<text x="291.0" y="753.0" font-size="26" fill="#1c1c1c" font-weight="bold" text-anchor="middle" textLength="100" lengthAdjust="spacingAndGlyphs" stroke="#1c1c1c" stroke-width="0.9">685.308</text>
<text x="407.0" y="740.0" font-size="26" fill="#1c1c1c" font-weight="bold" text-anchor="middle" textLength="100" lengthAdjust="spacingAndGlyphs" stroke="#1c1c1c" stroke-width="0.9">694.387</text>
<text x="450.0" y="783.0" font-size="26" fill="#1c1c1c" font-weight="bold" text-anchor="middle" textLength="100" lengthAdjust="spacingAndGlyphs" stroke="#1c1c1c" stroke-width="0.9">691.270</text>
<text x="507.0" y="834.0" font-size="26" fill="#1c1c1c" font-weight="bold" text-anchor="middle" textLength="100" lengthAdjust="spacingAndGlyphs" stroke="#1c1c1c" stroke-width="0.9">676.858</text>
<text x="682.0" y="714.0" font-size="26" fill="#1c1c1c" font-weight="bold" text-anchor="middle" textLength="100" lengthAdjust="spacingAndGlyphs" stroke="#1c1c1c" stroke-width="0.9">675.408</text>
<text x="630.0" y="789.0" font-size="26" fill="#1c1c1c" font-weight="bold" text-anchor="middle" textLength="100" lengthAdjust="spacingAndGlyphs" stroke="#1c1c1c" stroke-width="0.9">674.598</text>
<text x="740.0" y="821.0" font-size="26" fill="#1c1c1c" font-weight="bold" text-anchor="middle" textLength="100" lengthAdjust="spacingAndGlyphs" stroke="#1c1c1c" stroke-width="0.9">673.862</text>
<text x="848.0" y="696.0" font-size="26" fill="#1c1c1c" font-weight="bold" text-anchor="middle" textLength="100" lengthAdjust="spacingAndGlyphs" stroke="#1c1c1c" stroke-width="0.9">672.686</text>
<text x="888.0" y="757.0" font-size="26" fill="#1c1c1c" font-weight="bold" text-anchor="middle" textLength="100" lengthAdjust="spacingAndGlyphs" stroke="#1c1c1c" stroke-width="0.9">669.002</text>
<text x="883.0" y="839.0" font-size="26" fill="#1c1c1c" font-weight="bold" text-anchor="middle" textLength="100" lengthAdjust="spacingAndGlyphs" stroke="#1c1c1c" stroke-width="0.9">662.635</text>
<text x="1021.0" y="773.0" font-size="26" fill="#1c1c1c" font-weight="bold" text-anchor="middle" textLength="100" lengthAdjust="spacingAndGlyphs" stroke="#1c1c1c" stroke-width="0.9">658.971</text>
<text x="962.0" y="895.0" font-size="26" fill="#1c1c1c" font-weight="bold" text-anchor="middle" textLength="100" lengthAdjust="spacingAndGlyphs" stroke="#1c1c1c" stroke-width="0.9">654.997</text>
<text x="1097.0" y="716.0" font-size="26" fill="#1c1c1c" font-weight="bold" text-anchor="middle" textLength="100" lengthAdjust="spacingAndGlyphs" stroke="#1c1c1c" stroke-width="0.9">664.761</text>
<text x="1199.0" y="796.0" font-size="26" fill="#1c1c1c" font-weight="bold" text-anchor="middle" textLength="100" lengthAdjust="spacingAndGlyphs" stroke="#1c1c1c" stroke-width="0.9">655.402</text>
<text x="1150.0" y="863.0" font-size="26" fill="#1c1c1c" font-weight="bold" text-anchor="middle" textLength="100" lengthAdjust="spacingAndGlyphs" stroke="#1c1c1c" stroke-width="0.9">650.395</text>
<text x="1215.0" y="907.0" font-size="26" fill="#1c1c1c" font-weight="bold" text-anchor="middle" textLength="100" lengthAdjust="spacingAndGlyphs" stroke="#1c1c1c" stroke-width="0.9">638.874</text>
<text x="1326.0" y="839.0" font-size="26" fill="#1c1c1c" font-weight="bold" text-anchor="middle" textLength="100" lengthAdjust="spacingAndGlyphs" stroke="#1c1c1c" stroke-width="0.9">637.472</text>
<text x="1333.0" y="919.0" font-size="26" fill="#1c1c1c" font-weight="bold" text-anchor="middle" textLength="100" lengthAdjust="spacingAndGlyphs" stroke="#1c1c1c" stroke-width="0.9">637.017</text>
<text x="1460.0" y="839.0" font-size="26" fill="#1c1c1c" font-weight="bold" text-anchor="middle" textLength="100" lengthAdjust="spacingAndGlyphs" stroke="#1c1c1c" stroke-width="0.9">641.306</text>
<text x="1462.0" y="919.0" font-size="26" fill="#1c1c1c" font-weight="bold" text-anchor="middle" textLength="100" lengthAdjust="spacingAndGlyphs" stroke="#1c1c1c" stroke-width="0.9">641.122</text>
<text x="156.0" y="984.0" font-size="31" fill="#5a5a5a" font-weight="bold" text-anchor="middle" textLength="20" lengthAdjust="spacingAndGlyphs" >J</text>
<text x="213.8" y="984.0" font-size="31" fill="#5a5a5a" font-weight="bold" text-anchor="middle" textLength="20" lengthAdjust="spacingAndGlyphs" >J</text>
<text x="271.7" y="984.0" font-size="31" fill="#5a5a5a" font-weight="bold" text-anchor="middle" textLength="21" lengthAdjust="spacingAndGlyphs" >A</text>
<text x="329.6" y="984.0" font-size="31" fill="#5a5a5a" font-weight="bold" text-anchor="middle" textLength="17" lengthAdjust="spacingAndGlyphs" >S</text>
<text x="387.4" y="984.0" font-size="31" fill="#5a5a5a" font-weight="bold" text-anchor="middle" textLength="21" lengthAdjust="spacingAndGlyphs" >O</text>
<text x="445.2" y="984.0" font-size="31" fill="#5a5a5a" font-weight="bold" text-anchor="middle" textLength="20" lengthAdjust="spacingAndGlyphs" >N</text>
<text x="503.1" y="984.0" font-size="31" fill="#5a5a5a" font-weight="bold" text-anchor="middle" textLength="21" lengthAdjust="spacingAndGlyphs" >D</text>
<text x="561.0" y="984.0" font-size="31" fill="#5a5a5a" font-weight="bold" text-anchor="middle" textLength="17" lengthAdjust="spacingAndGlyphs" >E</text>
<text x="618.8" y="984.0" font-size="31" fill="#5a5a5a" font-weight="bold" text-anchor="middle" textLength="16" lengthAdjust="spacingAndGlyphs" >F</text>
<text x="676.6" y="984.0" font-size="31" fill="#5a5a5a" font-weight="bold" text-anchor="middle" textLength="25" lengthAdjust="spacingAndGlyphs" >M</text>
<text x="734.5" y="984.0" font-size="31" fill="#5a5a5a" font-weight="bold" text-anchor="middle" textLength="21" lengthAdjust="spacingAndGlyphs" >A</text>
<text x="792.4" y="984.0" font-size="31" fill="#5a5a5a" font-weight="bold" text-anchor="middle" textLength="25" lengthAdjust="spacingAndGlyphs" >M</text>
<text x="850.2" y="984.0" font-size="31" fill="#5a5a5a" font-weight="bold" text-anchor="middle" textLength="20" lengthAdjust="spacingAndGlyphs" >J</text>
<text x="908.1" y="984.0" font-size="31" fill="#5a5a5a" font-weight="bold" text-anchor="middle" textLength="20" lengthAdjust="spacingAndGlyphs" >J</text>
<text x="965.9" y="984.0" font-size="31" fill="#5a5a5a" font-weight="bold" text-anchor="middle" textLength="21" lengthAdjust="spacingAndGlyphs" >A</text>
<text x="1023.8" y="984.0" font-size="31" fill="#5a5a5a" font-weight="bold" text-anchor="middle" textLength="17" lengthAdjust="spacingAndGlyphs" >S</text>
<text x="1081.6" y="984.0" font-size="31" fill="#5a5a5a" font-weight="bold" text-anchor="middle" textLength="21" lengthAdjust="spacingAndGlyphs" >O</text>
<text x="1139.5" y="984.0" font-size="31" fill="#5a5a5a" font-weight="bold" text-anchor="middle" textLength="20" lengthAdjust="spacingAndGlyphs" >N</text>
<text x="1197.3" y="984.0" font-size="31" fill="#5a5a5a" font-weight="bold" text-anchor="middle" textLength="21" lengthAdjust="spacingAndGlyphs" >D</text>
<text x="1255.2" y="984.0" font-size="31" fill="#5a5a5a" font-weight="bold" text-anchor="middle" textLength="17" lengthAdjust="spacingAndGlyphs" >E</text>
<text x="1313.0" y="984.0" font-size="31" fill="#5a5a5a" font-weight="bold" text-anchor="middle" textLength="16" lengthAdjust="spacingAndGlyphs" >F</text>
<text x="1370.9" y="984.0" font-size="31" fill="#5a5a5a" font-weight="bold" text-anchor="middle" textLength="25" lengthAdjust="spacingAndGlyphs" >M</text>
<text x="1428.7" y="984.0" font-size="31" fill="#5a5a5a" font-weight="bold" text-anchor="middle" textLength="21" lengthAdjust="spacingAndGlyphs" >A</text>
<text x="1486.5" y="984.0" font-size="31" fill="#5a5a5a" font-weight="bold" text-anchor="middle" textLength="25" lengthAdjust="spacingAndGlyphs" >M</text>
<text x="1544.4" y="984.0" font-size="31" fill="#5a5a5a" font-weight="bold" text-anchor="middle" textLength="20" lengthAdjust="spacingAndGlyphs" >J</text>
<rect x="128" y="997" width="406" height="36" fill="#c4d3d1"/>
<rect x="1234" y="997" width="336" height="36" fill="#c4d3d1"/>
<text x="318.0" y="1027.0" font-size="31" fill="#1a1a1a" font-weight="bold" text-anchor="middle" textLength="64" lengthAdjust="spacingAndGlyphs" stroke="#1a1a1a" stroke-width="0.6">2011</text>
<text x="883.0" y="1027.0" font-size="31" fill="#1a1a1a" font-weight="bold" text-anchor="middle" textLength="68" lengthAdjust="spacingAndGlyphs" stroke="#1a1a1a" stroke-width="0.6">2012</text>
<text x="1405.0" y="1027.0" font-size="31" fill="#1a1a1a" font-weight="bold" text-anchor="middle" textLength="70" lengthAdjust="spacingAndGlyphs" stroke="#1a1a1a" stroke-width="0.6">2013</text>
<rect x="1533.9399999999998" y="856.3503900000001" width="20" height="20" fill="#fff" stroke="#a90b10" stroke-width="5"/>
<path d="M1522,752 L1568,752 L1568,801 L1583,801 L1545,827 L1507,801 L1522,801 Z" fill="url(#ag)"/>
<text x="1508.0" y="788.0" font-size="28" fill="#111" font-weight="bold" text-anchor="middle" textLength="112" lengthAdjust="spacingAndGlyphs" stroke="#111" stroke-width="0.6">636.287</text>
<line x1="40" y1="1316" x2="470" y2="1316" stroke="#9a9a9a" stroke-width="3"/>
<circle cx="209" cy="1323" r="159" fill="none" stroke="#e6e6e6" stroke-width="8" opacity="0.8"/>
<path d="M45.0,1316.0 A159,159 0 1 1 361.9,1334.3 L259.6,1322.5 A56,56 0 1 0 148.0,1316.0 Z" fill="#a80808"/>
<path d="M361.9,1334.3 A159,159 0 0 1 45.0,1316.0 L148.0,1316.0 A56,56 0 0 0 259.6,1322.5 Z" fill="#7f9b9d"/>
<text x="480.0" y="1328.0" font-size="28" fill="#c4c4c4" font-weight="normal" text-anchor="start" textLength="62" lengthAdjust="spacingAndGlyphs" >50%</text>
<text x="398.0" y="1164.0" font-size="27" fill="#777" font-weight="normal" text-anchor="start" textLength="99" lengthAdjust="spacingAndGlyphs" >Mujeres</text>
<line x1="302" y1="1177" x2="540" y2="1177" stroke="#aaa" stroke-width="3"/>
<text x="398.0" y="1208.0" font-size="27" fill="#111" font-weight="bold" text-anchor="start" textLength="109" lengthAdjust="spacingAndGlyphs" stroke="#111" stroke-width="0.4">130.956</text>
<text x="398.0" y="1240.0" font-size="27" fill="#222" font-weight="normal" text-anchor="start" textLength="114" lengthAdjust="spacingAndGlyphs" >(+4,05%)</text>
<text x="398.0" y="1397.0" font-size="27" fill="#777" font-weight="normal" text-anchor="start" textLength="114" lengthAdjust="spacingAndGlyphs" >Hombres</text>
<polyline points="305,1352 305,1410 540,1410" fill="none" stroke="#6b8587" stroke-width="3"/>
<line x1="305" y1="1410" x2="540" y2="1410" stroke="#aaa" stroke-width="3"/>
<text x="398.0" y="1442.0" font-size="27" fill="#111" font-weight="bold" text-anchor="start" textLength="109" lengthAdjust="spacingAndGlyphs" stroke="#111" stroke-width="0.4">121.665</text>
<text x="398.0" y="1474.0" font-size="27" fill="#222" font-weight="normal" text-anchor="start" textLength="114" lengthAdjust="spacingAndGlyphs" >(+2,83%)</text>
<text x="68.0" y="1131.0" font-size="26" fill="#5e5e5e" font-weight="normal" text-anchor="start" textLength="179" lengthAdjust="spacingAndGlyphs" >Var. interanual</text>
<text x="623.0" y="1131.0" font-size="26" fill="#5e5e5e" font-weight="normal" text-anchor="start" textLength="253" lengthAdjust="spacingAndGlyphs" >Nº de desempleados</text>
<line x1="656" y1="1157.4" x2="1578" y2="1157.4" stroke="#e6e8e8" stroke-width="2.5"/>
<line x1="656" y1="1175.0" x2="1578" y2="1175.0" stroke="#f3f4f4" stroke-width="2"/>
<text x="646.0" y="1162.4" font-size="25" fill="#7d7d7d" font-weight="normal" text-anchor="end" textLength="47" lengthAdjust="spacingAndGlyphs" >600</text>
<line x1="656" y1="1192.6" x2="1578" y2="1192.6" stroke="#e6e8e8" stroke-width="2.5"/>
<line x1="656" y1="1210.2" x2="1578" y2="1210.2" stroke="#f3f4f4" stroke-width="2"/>
<text x="646.0" y="1197.6" font-size="25" fill="#7d7d7d" font-weight="normal" text-anchor="end" textLength="47" lengthAdjust="spacingAndGlyphs" >400</text>
<line x1="656" y1="1227.8" x2="1578" y2="1227.8" stroke="#e6e8e8" stroke-width="2.5"/>
<line x1="656" y1="1245.4" x2="1578" y2="1245.4" stroke="#f3f4f4" stroke-width="2"/>
<text x="646.0" y="1232.8" font-size="25" fill="#7d7d7d" font-weight="normal" text-anchor="end" textLength="47" lengthAdjust="spacingAndGlyphs" >200</text>
<line x1="656" y1="1263.0" x2="1578" y2="1263.0" stroke="#e6e8e8" stroke-width="2.5"/>
<line x1="656" y1="1280.6" x2="1578" y2="1280.6" stroke="#f3f4f4" stroke-width="2"/>
<text x="646.0" y="1268.0" font-size="25" fill="#7d7d7d" font-weight="normal" text-anchor="end" textLength="13" lengthAdjust="spacingAndGlyphs" >0</text>
<line x1="656" y1="1298.2" x2="1578" y2="1298.2" stroke="#e6e8e8" stroke-width="2.5"/>
<line x1="656" y1="1315.8" x2="1578" y2="1315.8" stroke="#f3f4f4" stroke-width="2"/>
<text x="646.0" y="1303.2" font-size="25" fill="#7d7d7d" font-weight="normal" text-anchor="end" textLength="52" lengthAdjust="spacingAndGlyphs" >-200</text>
<line x1="656" y1="1333.4" x2="1578" y2="1333.4" stroke="#e6e8e8" stroke-width="2.5"/>
<line x1="656" y1="1351.0" x2="1578" y2="1351.0" stroke="#f3f4f4" stroke-width="2"/>
<text x="646.0" y="1338.4" font-size="25" fill="#7d7d7d" font-weight="normal" text-anchor="end" textLength="52" lengthAdjust="spacingAndGlyphs" >-400</text>
<line x1="656" y1="1368.6" x2="1578" y2="1368.6" stroke="#e6e8e8" stroke-width="2.5"/>
<line x1="656" y1="1386.2" x2="1578" y2="1386.2" stroke="#f3f4f4" stroke-width="2"/>
<text x="646.0" y="1373.6" font-size="25" fill="#7d7d7d" font-weight="normal" text-anchor="end" textLength="52" lengthAdjust="spacingAndGlyphs" >-600</text>
<line x1="656" y1="1403.8" x2="1578" y2="1403.8" stroke="#e6e8e8" stroke-width="2.5"/>
<line x1="656" y1="1421.4" x2="1578" y2="1421.4" stroke="#f3f4f4" stroke-width="2"/>
<text x="646.0" y="1408.8" font-size="25" fill="#7d7d7d" font-weight="normal" text-anchor="end" textLength="52" lengthAdjust="spacingAndGlyphs" >-800</text>
<line x1="656" y1="1439.0" x2="1578" y2="1439.0" stroke="#e6e8e8" stroke-width="2.5"/>
<text x="646.0" y="1444.0" font-size="25" fill="#7d7d7d" font-weight="normal" text-anchor="end" textLength="65" lengthAdjust="spacingAndGlyphs" >-1000</text>
<line x1="658" y1="1157" x2="658" y2="1440" stroke="#e0e2e2" stroke-width="3"/>
<line x1="841" y1="1157" x2="841" y2="1440" stroke="#e0e2e2" stroke-width="3"/>
<line x1="1024" y1="1157" x2="1024" y2="1440" stroke="#e0e2e2" stroke-width="3"/>
<line x1="1208" y1="1157" x2="1208" y2="1440" stroke="#e0e2e2" stroke-width="3"/>
<line x1="1392" y1="1157" x2="1392" y2="1440" stroke="#e0e2e2" stroke-width="3"/>
<line x1="1577" y1="1157" x2="1577" y2="1440" stroke="#e0e2e2" stroke-width="3"/>
<path d="M658,1263 L658,1176 L841,1176 L841,1263 Z" fill="#7ab84a" stroke="#1f2a1a" stroke-width="4.5"/>
<path d="M637,1177 L746,1163 L860,1177 L841,1176 L658,1176 Z" fill="#7ab84a" stroke="#1f2a1a" stroke-width="4.5" stroke-linejoin="round"/>
<text x="742.0" y="1202.0" font-size="27" fill="#14200f" font-weight="bold" text-anchor="middle" textLength="52" lengthAdjust="spacingAndGlyphs" stroke="#14200f" stroke-width="0.5">566</text>
<text x="742.0" y="1234.0" font-size="27" fill="#3d5a2a" font-weight="normal" text-anchor="middle" textLength="112" lengthAdjust="spacingAndGlyphs" >(+4,02%)</text>
<path d="M841,1263 L1024,1263 L1024,1281 L1044,1281 L932.5,1293 L821,1281 L841,1281 Z" fill="#ab070a"/>
<line x1="821" y1="1281" x2="851" y2="1281" stroke="#1a1a1a" stroke-width="3"/>
<line x1="1014" y1="1281" x2="1044" y2="1281" stroke="#1a1a1a" stroke-width="3"/>
<line x1="841" y1="1263" x2="841" y2="1281" stroke="#2a0a0a" stroke-width="3"/>
<line x1="1024" y1="1263" x2="1024" y2="1281" stroke="#2a0a0a" stroke-width="3"/>
<path d="M1024,1263 L1208,1263 L1208,1284 L1228,1284 L1116.0,1297 L1004,1284 L1024,1284 Z" fill="#ab070a"/>
<line x1="1004" y1="1284" x2="1034" y2="1284" stroke="#1a1a1a" stroke-width="3"/>
<line x1="1198" y1="1284" x2="1228" y2="1284" stroke="#1a1a1a" stroke-width="3"/>
<line x1="1024" y1="1263" x2="1024" y2="1284" stroke="#2a0a0a" stroke-width="3"/>
<line x1="1208" y1="1263" x2="1208" y2="1284" stroke="#2a0a0a" stroke-width="3"/>
<path d="M1392,1263 L1577,1263 L1577,1284 L1597,1284 L1484.5,1296 L1372,1284 L1392,1284 Z" fill="#ab070a"/>
<line x1="1372" y1="1284" x2="1402" y2="1284" stroke="#1a1a1a" stroke-width="3"/>
<line x1="1567" y1="1284" x2="1597" y2="1284" stroke="#1a1a1a" stroke-width="3"/>
<line x1="1392" y1="1263" x2="1392" y2="1284" stroke="#2a0a0a" stroke-width="3"/>
<line x1="1577" y1="1263" x2="1577" y2="1284" stroke="#2a0a0a" stroke-width="3"/>
<path d="M1208,1263 L1392,1263 L1392,1391 L1412,1391 L1300.0,1406 L1188,1391 L1208,1391 Z" fill="#ab070a"/>
<line x1="1188" y1="1391" x2="1218" y2="1391" stroke="#1a1a1a" stroke-width="3"/>
<line x1="1382" y1="1391" x2="1412" y2="1391" stroke="#1a1a1a" stroke-width="3"/>
<line x1="1208" y1="1263" x2="1208" y2="1391" stroke="#2a0a0a" stroke-width="3"/>
<line x1="1392" y1="1263" x2="1392" y2="1391" stroke="#2a0a0a" stroke-width="3"/>
<line x1="841" y1="1264" x2="1577" y2="1264" stroke="#1a1a1a" stroke-width="4"/>
<text x="925.0" y="1325.0" font-size="27" fill="#111" font-weight="bold" text-anchor="middle" textLength="62" lengthAdjust="spacingAndGlyphs" stroke="#111" stroke-width="0.5">-172</text>
<text x="925.0" y="1356.0" font-size="27" fill="#888" font-weight="normal" text-anchor="middle" textLength="106" lengthAdjust="spacingAndGlyphs" >(-0,77%)</text>
<text x="1110.0" y="1332.0" font-size="27" fill="#111" font-weight="bold" text-anchor="middle" textLength="62" lengthAdjust="spacingAndGlyphs" stroke="#111" stroke-width="0.5">-207</text>
<text x="1110.0" y="1366.0" font-size="27" fill="#888" font-weight="normal" text-anchor="middle" textLength="106" lengthAdjust="spacingAndGlyphs" >(-0,53%)</text>
<text x="1302.0" y="1339.0" font-size="27" fill="#f4d8d8" font-weight="bold" text-anchor="middle" textLength="62" lengthAdjust="spacingAndGlyphs" >-800</text>
<text x="1302.0" y="1371.0" font-size="27" fill="#f0c8c8" font-weight="normal" text-anchor="middle" textLength="106" lengthAdjust="spacingAndGlyphs" >(-0,54%)</text>
<text x="1482.0" y="1334.0" font-size="27" fill="#111" font-weight="bold" text-anchor="middle" textLength="62" lengthAdjust="spacingAndGlyphs" stroke="#111" stroke-width="0.5">-184</text>
<text x="1482.0" y="1367.0" font-size="27" fill="#888" font-weight="normal" text-anchor="middle" textLength="106" lengthAdjust="spacingAndGlyphs" >(-0,83%)</text>
<text x="738.0" y="1479.0" font-size="28" fill="#1e1e1e" font-weight="bold" text-anchor="middle" textLength="156" lengthAdjust="spacingAndGlyphs" >Agricultura</text>
<text x="928.0" y="1479.0" font-size="28" fill="#1e1e1e" font-weight="bold" text-anchor="middle" textLength="130" lengthAdjust="spacingAndGlyphs" >Industria</text>
<text x="1121.0" y="1479.0" font-size="28" fill="#1e1e1e" font-weight="bold" text-anchor="middle" textLength="182" lengthAdjust="spacingAndGlyphs" >Construcción</text>
<text x="1301.0" y="1479.0" font-size="28" fill="#1e1e1e" font-weight="bold" text-anchor="middle" textLength="128" lengthAdjust="spacingAndGlyphs" >Servicios</text>
<text x="1490.0" y="1479.0" font-size="28" fill="#1e1e1e" font-weight="bold" text-anchor="middle" textLength="154" lengthAdjust="spacingAndGlyphs" >Sin empleo</text>
<rect x="0" y="1501" width="1582" height="42" fill="#c9d7d5"/>
<rect x="0" y="1500" width="1582" height="3" fill="#a5b0af"/>
<rect x="0" y="1504" width="8" height="39" fill="#111"/>
<text x="20" y="1533" font-size="23" fill="#1a1a1a" textLength="833" lengthAdjust="spacingAndGlyphs"><tspan font-weight="bold">FUENTE:</tspan><tspan fill="#555"> Ministerio de Empleo y Seguridad Social. </tspan><tspan font-weight="bold">GRÁFICO:</tspan><tspan fill="#555"> Dpto de Infografía.</tspan></text></svg>
</body></html>
